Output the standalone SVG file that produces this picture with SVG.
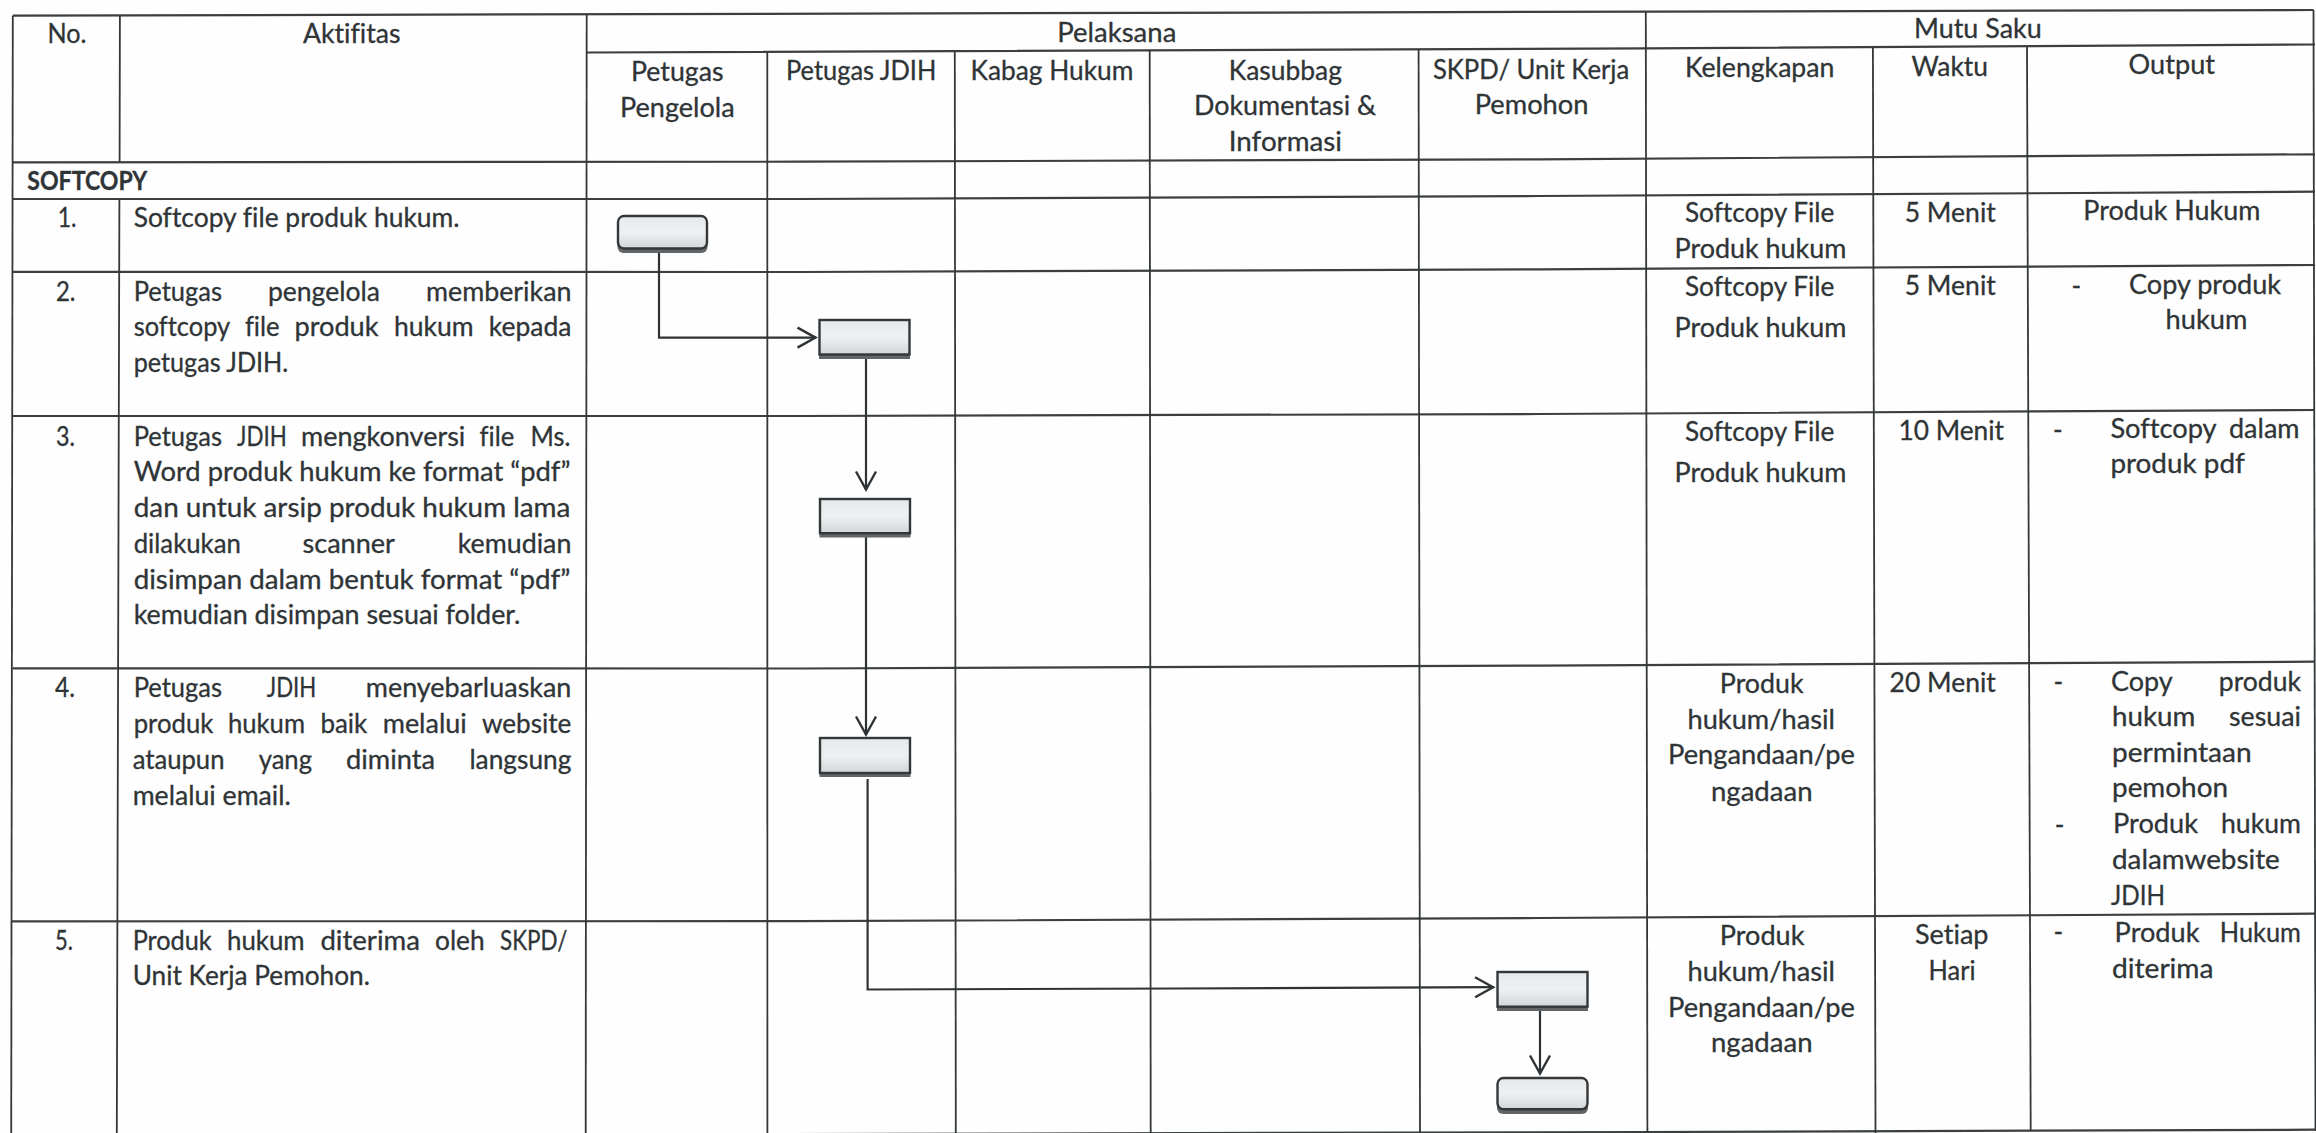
<svg xmlns="http://www.w3.org/2000/svg" width="2316" height="1133" viewBox="0 0 2316 1133">
<style>
.bg{fill:#fefefe}
.h{stroke:#3c3f40;stroke-width:2.2;fill:none}
.v{stroke:#34383a;stroke-width:1.8;fill:none}
.t{font-family:Lato,"Open Sans",sans-serif;font-size:26px;fill:#2f3437;stroke:#2f3437;stroke-width:0.3;font-variant-ligatures:none}
.b{font-weight:700}
.c{stroke:#2f3335;stroke-width:2.2;fill:none}
.a{marker-end:url(#arrow)}
.s{fill:#626567}
.n{fill:url(#box);stroke:#333739;stroke-width:2.4}
</style>
<defs>
<linearGradient id="box" x1="0" y1="0" x2="0" y2="1">
<stop offset="0" stop-color="#e6e8ea"/><stop offset="0.5" stop-color="#eff0f1"/><stop offset="1" stop-color="#d2d5d6"/>
</linearGradient>
<marker id="arrow" markerUnits="userSpaceOnUse" markerWidth="24" markerHeight="26" refX="21" refY="13" orient="auto">
<path d="M2.5,3 L20.5,13 L2.5,23" fill="none" stroke="#2f3335" stroke-width="2.4"/>
</marker>
</defs>
<rect class="bg" width="2316" height="1133"/>
<g id="grid">
<path class="h" d="M12.8,15.7L2313.5,10"/>
<path class="h" d="M586.7,52.5L1646,48.3L2315,44.5"/>
<path class="h" d="M12.8,162.3L800,161.7L1540,159.3L2315,154.3"/>
<path class="h" d="M12.8,199L800,199L1540,196L2315,191.7"/>
<path class="h" d="M12.8,271.8L800,272L1540,269.3L2315,265"/>
<path class="h" d="M12.8,416L800,416L1540,414L2315,410"/>
<path class="h" d="M12.8,668.3L800,668.5L1540,665.6L2315,661.7"/>
<path class="h" d="M12,921.3L800,921.2L1540,918L2315,913.7"/>
<path class="h" d="M12,1136L1645,1132L2316,1129.7"/>
<path class="v" d="M12.8,15.7L11.2,1133"/>
<path class="v" d="M119.9,15.7L119.6,162M119.4,199L116.8,1133"/>
<path class="v" d="M586.7,14L585.7,1133"/>
<path class="v" d="M767.3,52L767.4,1133"/>
<path class="v" d="M954.8,52L955.8,1133"/>
<path class="v" d="M1149.7,50L1150.7,1133"/>
<path class="v" d="M1418.6,49L1420,1133"/>
<path class="v" d="M1645.8,12L1647.4,1133"/>
<path class="v" d="M1872.9,47L1875.5,1133"/>
<path class="v" d="M2027,47L2030.7,1131"/>
<path class="v" d="M2313.5,10L2315.5,1131"/>
</g>
<g id="connectors">
<path class="c a" d="M659,252V337.6H816"/>
<path class="c a" d="M866,359V490"/>
<path class="c a" d="M866,537V735"/>
<path class="c a" d="M867.6,779V989.5L1180,988.5L1493.6,987.2"/>
<path class="c a" d="M1540,1011V1074"/>
</g>
<g id="node-1"><rect class="s" x="617.5" y="222" width="90" height="31" rx="6"/><rect class="n" x="618" y="216" width="89" height="32.5" rx="6"/></g>
<g id="node-2"><rect class="s" x="819" y="330" width="91" height="29"/><rect class="n" x="819.5" y="320" width="90" height="34.5"/></g>
<g id="node-3"><rect class="s" x="819.5" y="510" width="91" height="27.5"/><rect class="n" x="820" y="499" width="90" height="34.2"/></g>
<g id="node-4"><rect class="s" x="819.5" y="750" width="91" height="27"/><rect class="n" x="820" y="738" width="90" height="35"/></g>
<g id="node-5"><rect class="s" x="1497" y="985" width="91" height="26"/><rect class="n" x="1497.5" y="972" width="90" height="34.7"/></g>
<g id="node-6"><rect class="s" x="1497" y="1085" width="91" height="29" rx="6"/><rect class="n" x="1497.5" y="1078" width="90" height="31.3" rx="6"/></g>
<g id="labels">
<text class="t" x="47.5" y="43.3" textLength="39" lengthAdjust="spacingAndGlyphs">No.</text>
<text class="t" x="303" y="43.3" textLength="97.5" lengthAdjust="spacingAndGlyphs">Aktifitas</text>
<text class="t" x="1057.3" y="42.3" textLength="119" lengthAdjust="spacingAndGlyphs">Pelaksana</text>
<text class="t" x="1914" y="38.3" textLength="127.7" lengthAdjust="spacingAndGlyphs">Mutu Saku</text>
<text class="t" x="631" y="81" textLength="92.5" lengthAdjust="spacingAndGlyphs">Petugas</text>
<text class="t" x="620" y="116.7" textLength="114.7" lengthAdjust="spacingAndGlyphs">Pengelola</text>
<text class="t" x="786" y="80" textLength="150.4" lengthAdjust="spacingAndGlyphs">Petugas JDIH</text>
<text class="t" x="970.6" y="80" textLength="162.8" lengthAdjust="spacingAndGlyphs">Kabag Hukum</text>
<text class="t" x="1228.8" y="80" textLength="113.2" lengthAdjust="spacingAndGlyphs">Kasubbag</text>
<text class="t" x="1194" y="115" textLength="182.2" lengthAdjust="spacingAndGlyphs">Dokumentasi &amp;</text>
<text class="t" x="1228.8" y="150.7" textLength="113.2" lengthAdjust="spacingAndGlyphs">Informasi</text>
<text class="t" x="1432.9" y="79" textLength="196.3" lengthAdjust="spacingAndGlyphs">SKPD/ Unit Kerja</text>
<text class="t" x="1474.7" y="114" textLength="113.8" lengthAdjust="spacingAndGlyphs">Pemohon</text>
<text class="t" x="1684.9" y="77.3" textLength="149.5" lengthAdjust="spacingAndGlyphs">Kelengkapan</text>
<text class="t" x="1911.5" y="75.7" textLength="76.5" lengthAdjust="spacingAndGlyphs">Waktu</text>
<text class="t" x="2128.6" y="74" textLength="86.4" lengthAdjust="spacingAndGlyphs">Output</text>
<text class="t b" x="27.3" y="190" textLength="120" lengthAdjust="spacingAndGlyphs">SOFTCOPY</text>

<text class="t" x="57.7" y="227.3" textLength="18.8" lengthAdjust="spacingAndGlyphs">1.</text>
<text class="t" x="133.7" y="227.3" textLength="325.8" lengthAdjust="spacingAndGlyphs">Softcopy file produk hukum.</text>
<text class="t" x="1684.9" y="222.3" textLength="149.5" lengthAdjust="spacingAndGlyphs">Softcopy File</text>
<text class="t" x="1674.5" y="258.3" textLength="171.9" lengthAdjust="spacingAndGlyphs">Produk hukum</text>
<text class="t" x="1904.7" y="221.7" textLength="91.1" lengthAdjust="spacingAndGlyphs">5 Menit</text>
<text class="t" x="2083.3" y="220" textLength="177.1" lengthAdjust="spacingAndGlyphs">Produk Hukum</text>

<text class="t" x="56" y="300.7" textLength="19.5" lengthAdjust="spacingAndGlyphs">2.</text>
<text class="t" y="300.7"><tspan x="133.7" textLength="88.3" lengthAdjust="spacingAndGlyphs">Petugas</tspan> <tspan x="267.9" textLength="112.1" lengthAdjust="spacingAndGlyphs">pengelola</tspan> <tspan x="426" textLength="145.4" lengthAdjust="spacingAndGlyphs">memberikan</tspan></text>
<text class="t" y="336"><tspan x="133.7" textLength="95.9" lengthAdjust="spacingAndGlyphs">softcopy</tspan> <tspan x="244.9" textLength="34.7" lengthAdjust="spacingAndGlyphs">file</tspan> <tspan x="294.4" textLength="84.2" lengthAdjust="spacingAndGlyphs">produk</tspan> <tspan x="393.9" textLength="79.6" lengthAdjust="spacingAndGlyphs">hukum</tspan> <tspan x="488.8" textLength="82.6" lengthAdjust="spacingAndGlyphs">kepada</tspan></text>
<text class="t" x="133.7" y="372.3" textLength="154.6" lengthAdjust="spacingAndGlyphs">petugas JDIH.</text>
<text class="t" x="1684.9" y="295.7" textLength="149.5" lengthAdjust="spacingAndGlyphs">Softcopy File</text>
<text class="t" x="1674.5" y="337.3" textLength="171.9" lengthAdjust="spacingAndGlyphs">Produk hukum</text>
<text class="t" x="1904.7" y="295" textLength="91.1" lengthAdjust="spacingAndGlyphs">5 Menit</text>
<text class="t" x="2071.4" y="295">-</text>
<text class="t" x="2129" y="294" textLength="152" lengthAdjust="spacingAndGlyphs">Copy produk</text>
<text class="t" x="2165.6" y="329" textLength="81.8" lengthAdjust="spacingAndGlyphs">hukum</text>

<text class="t" x="56" y="445.7" textLength="19" lengthAdjust="spacingAndGlyphs">3.</text>
<text class="t" y="445.7"><tspan x="133.7" textLength="88.3" lengthAdjust="spacingAndGlyphs">Petugas</tspan> <tspan x="237" textLength="49.7" lengthAdjust="spacingAndGlyphs">JDIH</tspan> <tspan x="301" textLength="164.3" lengthAdjust="spacingAndGlyphs">mengkonversi</tspan> <tspan x="479.6" textLength="34.7" lengthAdjust="spacingAndGlyphs">file</tspan> <tspan x="530.6" textLength="39.8" lengthAdjust="spacingAndGlyphs">Ms.</tspan></text>
<text class="t" x="133.7" y="481" textLength="436.7" lengthAdjust="spacingAndGlyphs">Word produk hukum ke format “pdf”</text>
<text class="t" x="133.7" y="517.3" textLength="436.7" lengthAdjust="spacingAndGlyphs">dan untuk arsip produk hukum lama</text>
<text class="t" y="553.3"><tspan x="133.7" textLength="107.1" lengthAdjust="spacingAndGlyphs">dilakukan</tspan> <tspan x="302.5" textLength="91.9" lengthAdjust="spacingAndGlyphs">scanner</tspan> <tspan x="457.7" textLength="113.7" lengthAdjust="spacingAndGlyphs">kemudian</tspan></text>
<text class="t" x="133.7" y="589" textLength="436.7" lengthAdjust="spacingAndGlyphs">disimpan dalam bentuk format “pdf”</text>
<text class="t" x="133.7" y="624.3" textLength="386.7" lengthAdjust="spacingAndGlyphs">kemudian disimpan sesuai folder.</text>
<text class="t" x="1684.9" y="440.7" textLength="149.5" lengthAdjust="spacingAndGlyphs">Softcopy File</text>
<text class="t" x="1674.5" y="481.7" textLength="171.9" lengthAdjust="spacingAndGlyphs">Produk hukum</text>
<text class="t" x="1898.4" y="440" textLength="105.6" lengthAdjust="spacingAndGlyphs">10 Menit</text>
<text class="t" x="2053" y="439">-</text>
<text class="t" y="438.3"><tspan x="2110.4" textLength="105.6" lengthAdjust="spacingAndGlyphs">Softcopy</tspan> <tspan x="2229" textLength="70.5" lengthAdjust="spacingAndGlyphs">dalam</tspan></text>
<text class="t" x="2110.4" y="473.3" textLength="134.4" lengthAdjust="spacingAndGlyphs">produk pdf</text>

<text class="t" x="55" y="697.3" textLength="20" lengthAdjust="spacingAndGlyphs">4.</text>
<text class="t" y="697.3"><tspan x="133.7" textLength="88.3" lengthAdjust="spacingAndGlyphs">Petugas</tspan> <tspan x="266.8" textLength="49.5" lengthAdjust="spacingAndGlyphs">JDIH</tspan> <tspan x="365.8" textLength="205.6" lengthAdjust="spacingAndGlyphs">menyebarluaskan</tspan></text>
<text class="t" y="732.7"><tspan x="133.7" textLength="79.6" lengthAdjust="spacingAndGlyphs">produk</tspan> <tspan x="228" textLength="77" lengthAdjust="spacingAndGlyphs">hukum</tspan> <tspan x="320.4" textLength="46.9" lengthAdjust="spacingAndGlyphs">baik</tspan> <tspan x="382.7" textLength="84.1" lengthAdjust="spacingAndGlyphs">melalui</tspan> <tspan x="482" textLength="89.4" lengthAdjust="spacingAndGlyphs">website</tspan></text>
<text class="t" y="769"><tspan x="132.7" textLength="91.8" lengthAdjust="spacingAndGlyphs">ataupun</tspan> <tspan x="258.7" textLength="53.3" lengthAdjust="spacingAndGlyphs">yang</tspan> <tspan x="346" textLength="89" lengthAdjust="spacingAndGlyphs">diminta</tspan> <tspan x="469.4" textLength="102" lengthAdjust="spacingAndGlyphs">langsung</tspan></text>
<text class="t" x="132.7" y="804.7" textLength="158.1" lengthAdjust="spacingAndGlyphs">melalui email.</text>
<text class="t" x="1719.8" y="692.7" textLength="83.8" lengthAdjust="spacingAndGlyphs">Produk</text>
<text class="t" x="1687.5" y="728.7" textLength="147.4" lengthAdjust="spacingAndGlyphs">hukum/hasil</text>
<text class="t" x="1668" y="764.3" textLength="187" lengthAdjust="spacingAndGlyphs">Pengandaan/pe</text>
<text class="t" x="1711" y="800.7" textLength="101.5" lengthAdjust="spacingAndGlyphs">ngadaan</text>
<text class="t" x="1889.6" y="691.7" textLength="106.2" lengthAdjust="spacingAndGlyphs">20 Menit</text>
<text class="t" x="2053.6" y="691">-</text>
<text class="t" y="690.7"><tspan x="2111" textLength="60.9" lengthAdjust="spacingAndGlyphs">Copy</tspan> <tspan x="2218.8" textLength="82.2" lengthAdjust="spacingAndGlyphs">produk</tspan></text>
<text class="t" y="726"><tspan x="2112" textLength="83.3" lengthAdjust="spacingAndGlyphs">hukum</tspan> <tspan x="2229" textLength="72" lengthAdjust="spacingAndGlyphs">sesuai</tspan></text>
<text class="t" x="2112" y="761.5" textLength="139.6" lengthAdjust="spacingAndGlyphs">permintaan</text>
<text class="t" x="2112" y="797.3" textLength="116" lengthAdjust="spacingAndGlyphs">pemohon</text>
<text class="t" x="2054.7" y="834">-</text>
<text class="t" y="833"><tspan x="2113" textLength="85" lengthAdjust="spacingAndGlyphs">Produk</tspan> <tspan x="2221" textLength="80" lengthAdjust="spacingAndGlyphs">hukum</tspan></text>
<text class="t" x="2112" y="869" textLength="167.7" lengthAdjust="spacingAndGlyphs">dalamwebsite</text>
<text class="t" x="2111" y="904.7" textLength="54" lengthAdjust="spacingAndGlyphs">JDIH</text>

<text class="t" x="55" y="949.7" textLength="18" lengthAdjust="spacingAndGlyphs">5.</text>
<text class="t" y="949.7"><tspan x="132.7" textLength="79" lengthAdjust="spacingAndGlyphs">Produk</tspan> <tspan x="227" textLength="77.6" lengthAdjust="spacingAndGlyphs">hukum</tspan> <tspan x="320.4" textLength="99.5" lengthAdjust="spacingAndGlyphs">diterima</tspan> <tspan x="435" textLength="49.7" lengthAdjust="spacingAndGlyphs">oleh</tspan> <tspan x="500" textLength="67.3" lengthAdjust="spacingAndGlyphs">SKPD/</tspan></text>
<text class="t" x="132.7" y="985.3" textLength="237.2" lengthAdjust="spacingAndGlyphs">Unit Kerja Pemohon.</text>
<text class="t" x="1719.8" y="945.3" textLength="84.6" lengthAdjust="spacingAndGlyphs">Produk</text>
<text class="t" x="1687.5" y="981.3" textLength="147.4" lengthAdjust="spacingAndGlyphs">hukum/hasil</text>
<text class="t" x="1668" y="1017" textLength="187" lengthAdjust="spacingAndGlyphs">Pengandaan/pe</text>
<text class="t" x="1711" y="1052.3" textLength="101.5" lengthAdjust="spacingAndGlyphs">ngadaan</text>
<text class="t" x="1915" y="943.7" textLength="73.5" lengthAdjust="spacingAndGlyphs">Setiap</text>
<text class="t" x="1928.6" y="979.7" textLength="46.9" lengthAdjust="spacingAndGlyphs">Hari</text>
<text class="t" x="2053.6" y="941">-</text>
<text class="t" y="942"><tspan x="2114.6" textLength="84.9" lengthAdjust="spacingAndGlyphs">Produk</tspan> <tspan x="2219.8" textLength="81.2" lengthAdjust="spacingAndGlyphs">Hukum</tspan></text>
<text class="t" x="2112" y="978" textLength="101.5" lengthAdjust="spacingAndGlyphs">diterima</text>
</g>
</svg>
